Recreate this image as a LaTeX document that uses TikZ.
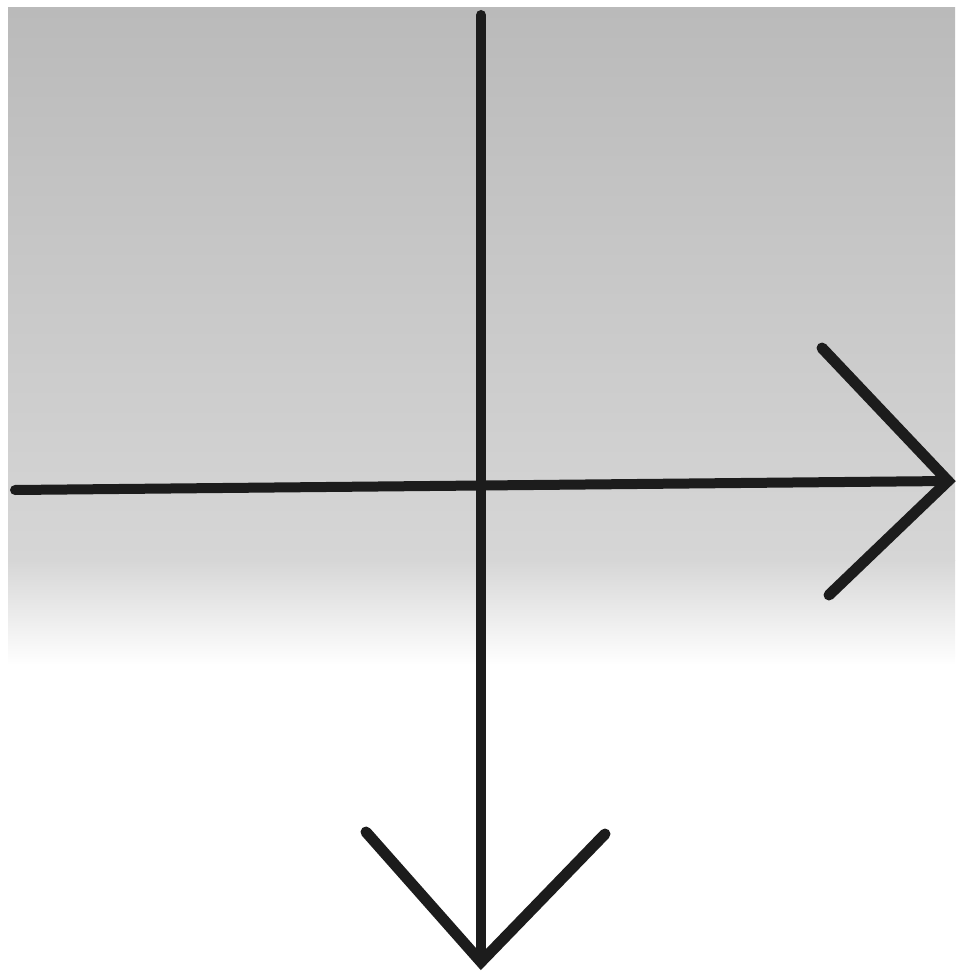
\documentclass[tikz,border=0pt]{standalone}
\usepackage{xcolor}
\usepackage{tikz}

\definecolor{papel}{RGB}{186,186,186}
\definecolor{papelclaro}{RGB}{214,214,214}
\definecolor{tinta}{RGB}{28,28,28}

\begin{document}
\begin{tikzpicture}[
    x=0.5pt, y=-0.5pt,
    trazo/.style={draw=tinta, line width=5pt, line cap=round, line join=round},
    punta/.style={draw=tinta, line width=5.5pt, line cap=round, line join=miter}
  ]

  \useasboundingbox (0,0) rectangle (962,972);

  % --- Fondo gris ---
  \shade[top color=papel, bottom color=papelclaro] (8,8) rectangle (955,560);
  \shade[top color=papelclaro, bottom color=white] (8,560) rectangle (955,665);

  % --- Ejes ---
  \coordinate (arriba) at (481,15);
  \coordinate (abajo) at (481,962);
  \coordinate (izq) at (15,490);
  \coordinate (der) at (948,481);

  \draw[trazo] (arriba) -- (abajo);
  \draw[trazo] (izq) -- (der);

  % --- Puntas ---
  \coordinate (d1) at (822,348);
  \coordinate (d2) at (829,595);
  \coordinate (b1) at (366,832);
  \coordinate (b2) at (605,834);

  \draw[punta] (d1) -- (der) -- (d2);
  \draw[punta] (b1) -- (abajo) -- (b2);

\end{tikzpicture}
\end{document}
